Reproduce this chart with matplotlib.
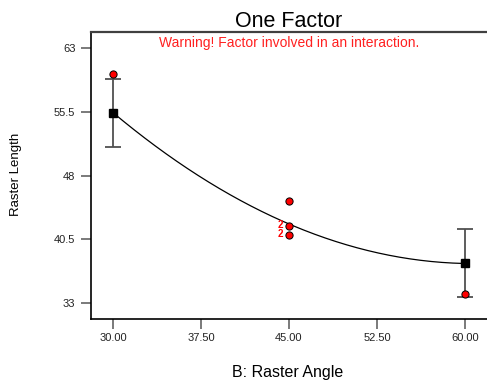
import numpy as np
import matplotlib
matplotlib.use("Agg")
import matplotlib.pyplot as plt

plt.rcParams['font.family'] = ['Liberation Sans', 'DejaVu Sans']

# ---- data ----
x_levels = [30, 45, 60]
mean_pred = [55.4, 42.3, 37.65]
bar_x = [30, 60]
bar_y = [55.4, 37.65]
bar_half = [4.0, 4.0]
design_x = [30, 45, 45, 45, 60]
design_y = [59.97, 45.0, 42.05, 41.0, 34.03]
design_count = [1, 1, 2, 2, 1]
x_ticks = [30.0, 37.5, 45.0, 52.5, 60.0]
x_ticklabels = ["30.00", "37.50", "45.00", "52.50", "60.00"]
y_ticks = [33, 40.5, 48, 55.5, 63]
y_ticklabels = ["33", "40.5", "48", "55.5", "63"]

W, H = 487, 380
fig = plt.figure(figsize=(W / 100, H / 100), dpi=100)
ax = fig.add_axes([90.7 / W, (H - 319) / H, (W - 90.7) / W, (319 - 32.3) / H])

# model curve (quadratic through predicted means)
coef = np.polyfit(x_levels, mean_pred, 2)
xs = np.linspace(30, 60, 200)
ax.plot(xs, np.polyval(coef, xs), color='black', lw=0.9, zorder=2)

# LSD bars
ax.errorbar(bar_x, bar_y, yerr=bar_half, fmt='none', ecolor='#505050',
            elinewidth=1.3, capsize=6, capthick=1.3, zorder=3)
# predicted means at bar positions
ax.plot(bar_x, bar_y, linestyle='none', marker='s', ms=5.2, color='black', zorder=4)

# design points
ax.plot(design_x, design_y, linestyle='none', marker='o', ms=5.2,
        markerfacecolor='#ff0000', markeredgecolor='black', markeredgewidth=0.7, zorder=5)
for xv, yv, c in zip(design_x, design_y, design_count):
    if c > 1:
        ax.annotate(str(c), (xv, yv), xytext=(-4, 0.5), textcoords='offset points',
                    ha='right', va='center', color='#ff0000', fontsize=7,
                    fontweight='bold')

ax.set_xlim(28.1, 61.88)
ax.set_ylim(31.12, 64.85)
ax.set_xticks(x_ticks)
ax.set_xticklabels(x_ticklabels)
ax.set_yticks(y_ticks)
ax.set_yticklabels(y_ticklabels)
ax.tick_params(axis='both', direction='out', length=7, width=1.3, color='#707070',
               labelsize=8, labelcolor='#222222')
ax.tick_params(axis='y', pad=4)
ax.tick_params(axis='x', pad=3)

for s in ['left', 'bottom']:
    ax.spines[s].set_color('black')
    ax.spines[s].set_linewidth(1.2)
ax.spines['top'].set_color('#404040')
ax.spines['top'].set_linewidth(1.6)
ax.spines['right'].set_visible(False)

ax.set_title("One Factor", fontsize=15.5, pad=3, color='black')
ax.text(0.5, 0.962, "Warning! Factor involved in an interaction.", transform=ax.transAxes,
        ha='center', va='center', color='#ff2020', fontsize=10)

fig.text(288 / W, 1 - 373 / H, "B: Raster Angle", ha='center', va='center', fontsize=11.5)
fig.text(16.5 / W, 1 - 174 / H, "Raster Length", ha='center', va='center',
         rotation=90, fontsize=9.5)

fig.savefig("out.png", dpi=100)
